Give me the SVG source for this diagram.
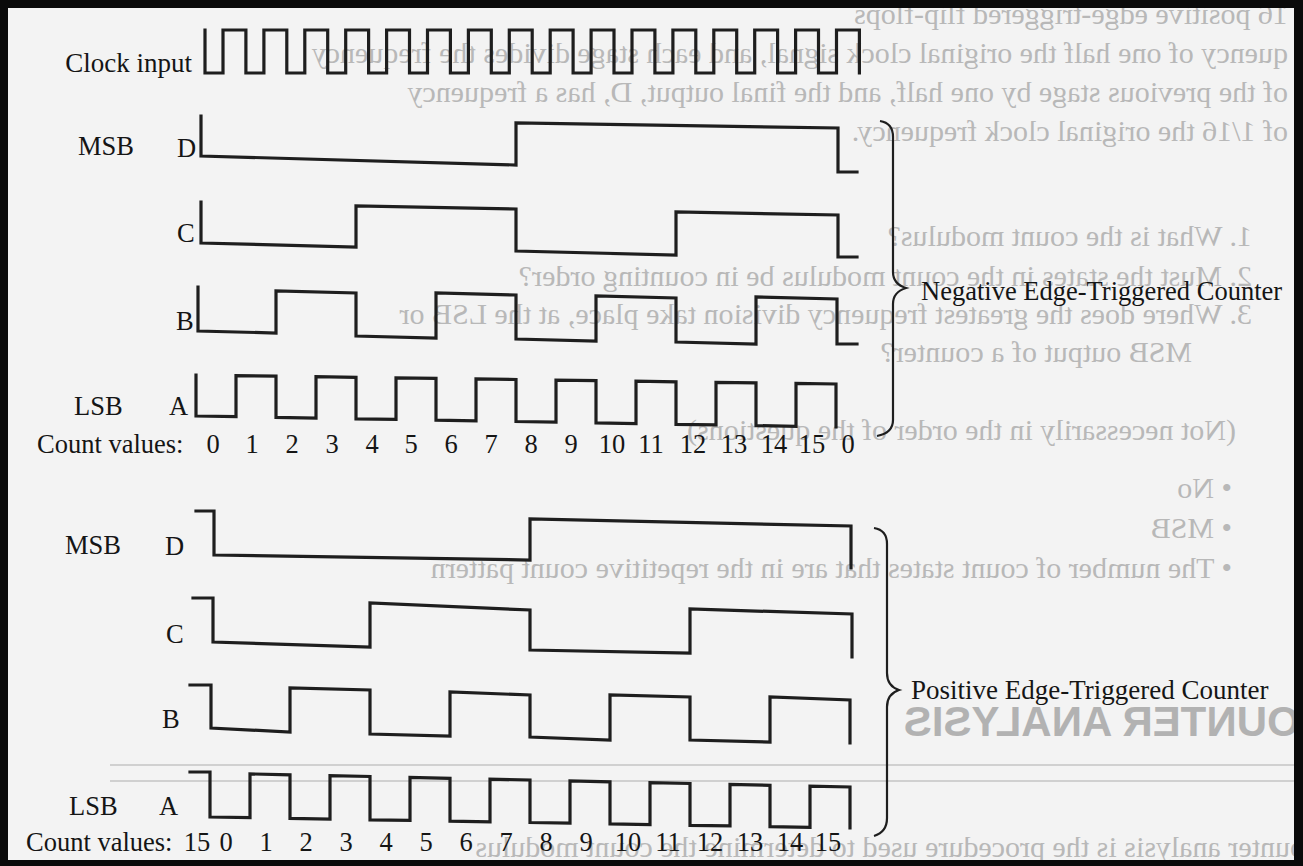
<svg xmlns="http://www.w3.org/2000/svg" width="1303" height="866" viewBox="0 0 1303 866">
<style>
.w{fill:none;stroke:#1e1e1e;stroke-width:3.2;stroke-linejoin:miter;stroke-linecap:square}
.br{fill:none;stroke:#1e1e1e;stroke-width:2.2}
.t{font-family:"Liberation Serif","Times New Roman",serif;font-size:26.5px;fill:#151515}
.bg{font-family:"Liberation Serif","Times New Roman",serif;font-size:30px;fill:#b8b8b8}
.bgb{font-family:"Liberation Sans",Arial,sans-serif;font-size:42px;font-weight:bold;fill:#b2b2b2}
</style>
<rect x="0" y="0" width="1303" height="866" fill="#f3f3f3"/>
<g id="show-through">
<text class="bg" transform="matrix(-1 0 0 1 1288 0)" x="0" y="24">16 positive edge-triggered flip-flops</text>
<text class="bg" transform="matrix(-1 0 0 1 1288 0)" x="0" y="63">quency of one half the original clock signal, and each stage divides the frequency</text>
<text class="bg" transform="matrix(-1 0 0 1 1288 0)" x="0" y="102">of the previous stage by one half, and the final output, D, has a frequency</text>
<text class="bg" transform="matrix(-1 0 0 1 1288 0)" x="0" y="141">of 1/16 the original clock frequency.</text>
<text class="bg" transform="matrix(-1 0 0 1 1252 0)" x="0" y="246">1.  What is the count modulus?</text>
<text class="bg" transform="matrix(-1 0 0 1 1252 0)" x="0" y="286">2.  Must the states in the count modulus be in counting order?</text>
<text class="bg" transform="matrix(-1 0 0 1 1252 0)" x="0" y="324">3.  Where does the greatest frequency division take place, at the LSB or</text>
<text class="bg" transform="matrix(-1 0 0 1 1192 0)" x="0" y="362">MSB output of a counter?</text>
<text class="bg" transform="matrix(-1 0 0 1 1236 0)" x="0" y="440">(Not necessarily in the order of the questions)</text>
<text class="bg" transform="matrix(-1 0 0 1 1232 0)" x="0" y="498">•  No</text>
<text class="bg" transform="matrix(-1 0 0 1 1232 0)" x="0" y="538">•  MSB</text>
<text class="bg" transform="matrix(-1 0 0 1 1232 0)" x="0" y="578">•  The number of count states that are in the repetitive count pattern</text>
<text class="bgb" transform="matrix(-1 0 0 1 1330 0)" x="0" y="736">COUNTER ANALYSIS</text>
<line x1="110" y1="765" x2="1294" y2="765" stroke="#d0d0d0" stroke-width="2"/>
<line x1="110" y1="781" x2="1294" y2="781" stroke="#d0d0d0" stroke-width="2"/>
<text class="bg" transform="matrix(-1 0 0 1 1325 0)" x="0" y="857">Counter analysis is the procedure used to determine the count modulus</text>
</g>
<g id="clock">
<text class="t" x="192" y="72" text-anchor="end" style="font-size:27px">Clock input</text>
<path class="w" d="M205,30 V73 H223 V30 H245.9 V73 H263.9 V30 H286.8 V73 H304.8 V30 H327.7 V73 H345.7 V30 H368.6 V73 H386.6 V30 H409.5 V73 H427.5 V30 H450.4 V73 H468.4 V30 H491.3 V73 H509.3 V30 H532.2 V73 H550.2 V30 H573.1 V73 H591.1 V30 H614 V73 H632 V30 H654.9 V73 H672.9 V30 H695.8 V73 H713.8 V30 H736.7 V73 H754.7 V30 H777.6 V73 H795.6 V30 H818.5 V73 H836.5 V30 H859.4 V73"/>
</g>
<g id="neg-D">
<text class="t" x="78" y="155">MSB</text>
<text class="t" x="177" y="157">D</text>
<path class="w" d="M201,116 V156 L516,165 V123 L838,128 V172 H857"/>
</g>
<g id="neg-C">
<text class="t" x="177" y="242">C</text>
<path class="w" d="M201,202 V243 L356,247 V206 L516,209 V251 L676,255 V212 L838,215 V257 H857"/>
</g>
<g id="neg-B">
<text class="t" x="176" y="330">B</text>
<path class="w" d="M198,287 V331 L276,333 V291 L356,293 V336 L436,338 V293 L516,295 V339 L596,341 V296 L676,298 V342 L756,344 V297 L837,299 V344 H857"/>
</g>
<g id="neg-A">
<text class="t" x="74" y="415">LSB</text>
<text class="t" x="169" y="415">A</text>
<path class="w" d="M196,375 V416 L236,416.7 V375.6 L276,376.1 V417.4 L316,418.1 V376.7 L356,377.3 V418.8 L396,419.4 V377.8 L436,378.4 V420.1 L476,420.8 V378.9 L516,379.5 V421.5 L556,422.2 V380.1 L596,380.6 V422.9 L636,423.6 V381.2 L676,381.8 V424.3 L716,424.9 V382.3 L756,382.9 V425.6 L796,426.3 V383.4 L836,384 V427"/>
</g>
<g id="neg-count" class="t" text-anchor="middle">
<text x="37" y="453" text-anchor="start">Count values:</text>
<text x="213" y="453">0</text><text x="252" y="453">1</text><text x="292" y="453">2</text><text x="332" y="453">3</text><text x="372" y="453">4</text><text x="411" y="453">5</text><text x="451" y="453">6</text><text x="491" y="453">7</text><text x="531" y="453">8</text><text x="571" y="453">9</text><text x="612" y="453">10</text><text x="651" y="453">11</text><text x="693" y="453">12</text><text x="734" y="453">13</text><text x="774" y="453">14</text><text x="812" y="453">15</text><text x="848" y="453">0</text>
</g>
<g id="pos-D">
<text class="t" x="65" y="554">MSB</text>
<text class="t" x="165" y="555">D</text>
<path class="w" d="M196,511 H214 V555 L530,560 V519 L851,526 V568"/>
</g>
<g id="pos-C">
<text class="t" x="166" y="643">C</text>
<path class="w" d="M193,598 H213 V642 L370,647 V603 L530,610 V650 L690,653 V609 L852,614 V657"/>
</g>
<g id="pos-B">
<text class="t" x="162" y="728">B</text>
<path class="w" d="M190,685 H211 V728 L290,732 V688 L370,690 V734 L450,736 V692 L530,695 V737 L610,740 V695 L690,697 V740 L770,742 V697 L850,700 V743"/>
</g>
<g id="pos-A">
<text class="t" x="69" y="815">LSB</text>
<text class="t" x="159" y="815">A</text>
<path class="w" d="M190,772 H210 V817 L250,817.7 V773.9 L290,774.8 V818.4 L330,819.1 V775.6 L370,776.5 V819.8 L410,820.4 V777.4 L450,778.3 V821.1 L490,821.8 V779.1 L530,780 V822.5 L570,823.2 V780.9 L610,781.8 V823.9 L650,824.6 V782.6 L690,783.5 V825.3 L730,825.9 V784.4 L770,785.3 V826.6 L810,827.3 V786.1 L850,787 V828"/>
</g>
<g id="pos-count" class="t" text-anchor="middle">
<text x="26" y="851" text-anchor="start">Count values:</text>
<text x="197" y="851">15</text><text x="226" y="851">0</text><text x="266" y="851">1</text><text x="306" y="851">2</text><text x="346" y="851">3</text><text x="386" y="851">4</text><text x="426" y="851">5</text><text x="466" y="851">6</text><text x="506" y="851">7</text><text x="546" y="851">8</text><text x="586" y="851">9</text><text x="628" y="851">10</text><text x="668" y="851">11</text><text x="710" y="851">12</text><text x="750" y="851">13</text><text x="790" y="851">14</text><text x="828" y="851">15</text>
</g>
<g id="connectors">
<path class="br" d="M880,121 Q893,123 893,137 V272 Q893,284 906,288 Q893,292 893,304 V420 Q893,433 877,436"/>
<path class="br" d="M874,528 Q887,530 887,544 V673 Q887,686 899,690 Q887,694 887,707 V818 Q887,832 874,836"/>
</g>
<g id="labels">
<text class="t" x="921" y="300">Negative Edge-Triggered Counter</text>
<text class="t" x="911" y="699" style="font-size:27px">Positive Edge-Triggered Counter</text>
</g>
<g id="frame" fill="#0a0a0a">
<rect x="0" y="0" width="1303" height="8"/>
<rect x="0" y="0" width="8" height="866"/>
<rect x="1294" y="0" width="9" height="866"/>
<rect x="0" y="860" width="1303" height="6"/>
</g>
</svg>
